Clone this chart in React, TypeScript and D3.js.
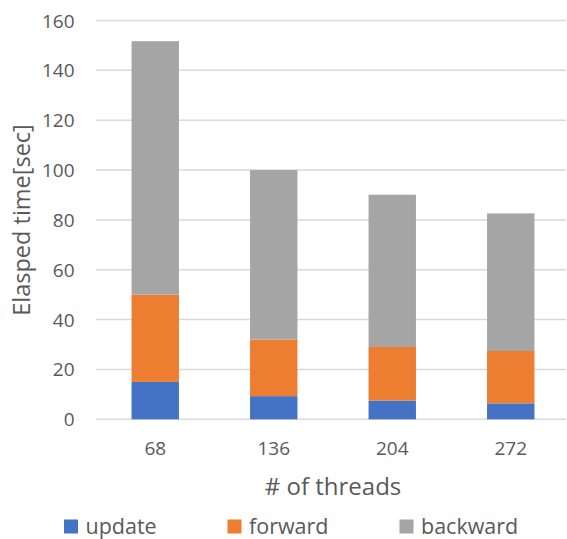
import React from "react";
import * as d3 from "d3";

const threads = ["68", "136", "204", "272"];
const update = [15, 9.3, 7.5, 6.4];
const forward = [35, 22.7, 21.5, 21.0];
const backward = [101.7, 68, 61.1, 55.2];
const yTicks = [0, 20, 40, 60, 80, 100, 120, 140, 160];

const seriesNames = ["update", "forward", "backward"];
const seriesColors = ["#4472C4", "#ED7D31", "#A5A5A5"];

const W = 567;
const H = 539;
const FONT = "'Open Sans', Lato, sans-serif";
const TEXT = "#595959";

export default function App() {
  const x = d3.scaleBand().domain(threads).range([96, 570]).paddingInner(0.6).paddingOuter(0.3);
  const y = d3.scaleLinear().domain([0, 160]).range([419.3, 20.5]);

  const rows = threads.map((t, i) => ({ t, update: update[i], forward: forward[i], backward: backward[i] }));
  const stacked = d3.stack<any>().keys(seriesNames)(rows);

  const legendX = [64, 227.5, 399.5];

  return (
    <svg width={W} height={H} style={{ position: "absolute", left: 0, top: 0, background: "#fff" }}>
      {yTicks.map((v) => (
        <g key={v}>
          <line x1={96} x2={566} y1={y(v)} y2={y(v)} stroke="#D9D9D9" strokeWidth={1.5} />
          <text x={74.5} y={y(v)} textAnchor="end" dominantBaseline="central" fontFamily={FONT} fontSize={19} fill={TEXT}>
            {v}
          </text>
        </g>
      ))}
      {stacked.map((s, si) => (
        <g key={s.key} fill={seriesColors[si]}>
          {s.map((d, i) => (
            <rect key={i} x={x(threads[i])!} width={x.bandwidth()} y={y(d[1])} height={y(d[0]) - y(d[1])} />
          ))}
        </g>
      ))}
      {threads.map((t) => (
        <text key={t} x={x(t)! + x.bandwidth() / 2} y={448} textAnchor="middle" dominantBaseline="central" fontFamily={FONT} fontSize={19} fill={TEXT}>
          {t}
        </text>
      ))}
      <text x={333} y={485} textAnchor="middle" dominantBaseline="central" fontFamily={FONT} fontSize={24} fill={TEXT}>
        # of threads
      </text>
      <text transform="translate(21,220) rotate(-90)" textAnchor="middle" dominantBaseline="central" fontFamily={FONT} fontSize={23.5} fill={TEXT}>
        Elasped time[sec]
      </text>
      {seriesNames.map((n, i) => (
        <g key={n}>
          <rect x={legendX[i]} y={519.5} width={14} height={14} fill={seriesColors[i]} />
          <text x={legendX[i] + 21.5} y={525.5} dominantBaseline="central" fontFamily={FONT} fontSize={21.5} fill={TEXT}>
            {n}
          </text>
        </g>
      ))}
    </svg>
  );
}
